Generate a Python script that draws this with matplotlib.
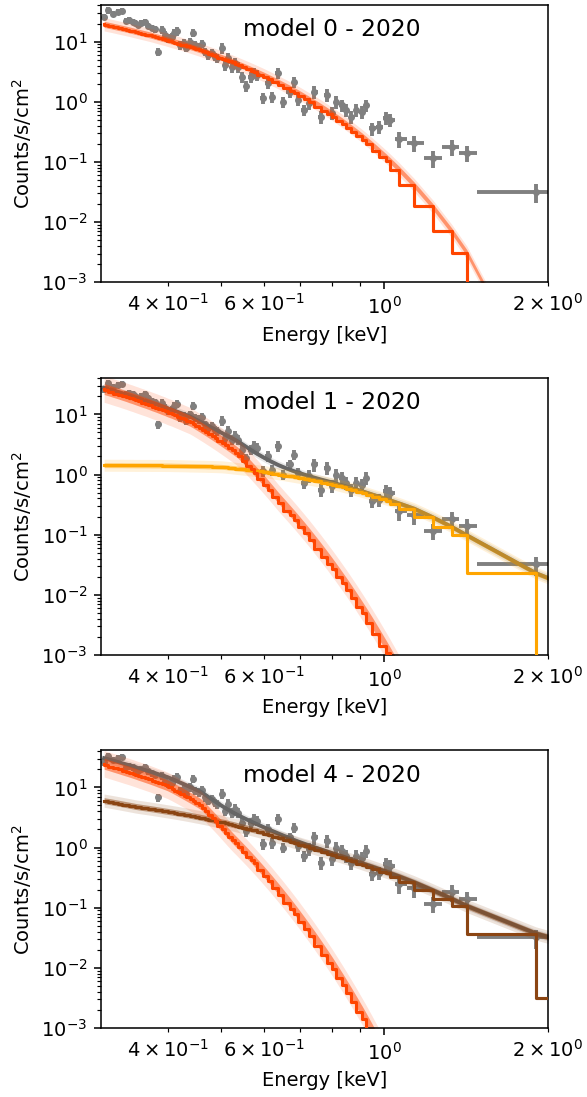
import numpy as np
import matplotlib
matplotlib.use("Agg")
import matplotlib.pyplot as plt

DPI = 140

# ---- observed spectrum (bin centres in keV, counts/s/cm^2, relative 1-sigma errors)
energy = [0.305, 0.310, 0.317, 0.324, 0.329, 0.335, 0.339, 0.344, 0.348, 0.3525,
          0.357, 0.363, 0.368, 0.373, 0.379, 0.384, 0.389, 0.394, 0.399, 0.406,
          0.410, 0.416, 0.4215, 0.427, 0.432, 0.438, 0.444, 0.449, 0.455, 0.461,
          0.467, 0.473, 0.481, 0.487, 0.493, 0.502, 0.508, 0.515, 0.524, 0.530,
          0.537, 0.546, 0.556, 0.568, 0.575, 0.582, 0.597, 0.610, 0.621, 0.637,
          0.651, 0.670, 0.682, 0.694, 0.712, 0.727, 0.743, 0.765, 0.785, 0.802,
          0.815, 0.836, 0.851, 0.869, 0.888, 0.911, 0.926, 0.950, 0.979, 1.008,
          1.026, 1.066, 1.136, 1.227, 1.330, 1.418, 1.901]
counts = [26, 33, 29, 31, 32.5, 22, 23, 21.5, 20.5, 19,
          20.5, 21.5, 18.5, 17, 16, 6.8, 15.7, 13, 11.5, 12,
          14, 15, 8.8, 9.5, 7.9, 10, 14, 8.8, 8.3, 9.2,
          6.8, 6.0, 6.5, 5.6, 5.3, 7.9, 4.1, 5.3, 3.8, 4.4,
          3.8, 2.6, 1.85, 2.6, 3.0, 2.8, 1.15, 2.05, 1.2, 3.0,
          1.0, 1.47, 2.15, 1.07, 0.73, 0.95, 1.47, 0.56, 1.3, 0.65,
          1.0, 0.88, 0.73, 0.56, 0.73, 0.68, 0.88, 0.36, 0.38, 0.54,
          0.50, 0.245, 0.21, 0.115, 0.18, 0.14, 0.032]
rel_err = [0.12] * 15 + [0.16] * 20 + [0.20] * 20 + [0.24] * 16 + [0.30] * 5 + [0.35]
last_bin = [1.48, 2.32]

# ---- model components evaluated on the bin centres (+ one point past 2 keV)
model_e = energy + [2.1]

red0 = [19.4, 18.8, 18.0, 17.2, 16.7, 16.1, 15.7, 15.2, 14.8, 14.4,
        14.0, 13.5, 13.1, 12.7, 12.2, 11.8, 11.4, 11.1, 10.7, 10.2,
        9.98, 9.6, 9.27, 8.94, 8.65, 8.32, 8.0, 7.74, 7.44, 7.15,
        6.87, 6.6, 6.26, 6.01, 5.78, 5.44, 5.22, 4.98, 4.69, 4.50,
        4.29, 4.03, 3.76, 3.46, 3.30, 3.14, 2.83, 2.58, 2.38, 2.13,
        1.92, 1.68, 1.54, 1.41, 1.23, 1.10, 0.979, 0.83, 0.713, 0.626,
        0.566, 0.482, 0.428, 0.372, 0.320, 0.267, 0.236, 0.195, 0.153, 0.121,
        0.104, 0.0743, 0.0407, 0.0182, 0.00712, 0.0031, 2.1e-5, 1e-5]

red1 = [26.3, 25.2, 23.6, 22.2, 21.2, 20.1, 19.3, 18.5, 17.8, 17.1,
        16.4, 15.6, 14.9, 14.2, 13.5, 12.9, 12.3, 11.8, 11.2, 10.6,
        10.2, 9.65, 9.18, 8.73, 8.34, 7.91, 7.38, 6.93, 6.44, 5.98,
        5.55, 5.15, 4.67, 4.33, 4.02, 3.59, 3.33, 3.05, 2.73, 2.54,
        2.32, 2.02, 1.70, 1.38, 1.22, 1.08, 0.837, 0.668, 0.553, 0.419,
        0.336, 0.251, 0.209, 0.174, 0.132, 0.105, 0.082, 0.0585, 0.0431, 0.0332,
        0.0272, 0.0197, 0.0157, 0.0119, 0.0089, 0.00625, 0.00497, 0.00344, 0.0022, 0.00141,
        0.00107, 5.8e-4, 2e-4, 4.9e-5, 1e-5, 2.6e-6, 1e-9, 1e-10]

orange1 = [1.429, 1.429, 1.426, 1.426, 1.426, 1.422, 1.422, 1.422, 1.419, 1.419,
           1.419, 1.419, 1.419, 1.416, 1.416, 1.416, 1.416, 1.413, 1.413, 1.410,
           1.406, 1.403, 1.400, 1.396, 1.393, 1.387, 1.384, 1.380, 1.377, 1.374,
           1.371, 1.365, 1.361, 1.358, 1.352, 1.343, 1.330, 1.312, 1.291, 1.276,
           1.259, 1.239, 1.216, 1.191, 1.175, 1.159, 1.127, 1.096, 1.069, 1.030,
           0.998, 0.955, 0.929, 0.904, 0.867, 0.838, 0.807, 0.767, 0.733, 0.705,
           0.679, 0.641, 0.615, 0.585, 0.555, 0.520, 0.497, 0.462, 0.424, 0.389,
           0.370, 0.329, 0.269, 0.195, 0.135, 0.0977, 0.0229, 1e-5]

red4 = [24.6, 23.6, 22.1, 20.8, 19.9, 18.9, 18.3, 17.5, 16.9, 16.2,
        15.6, 14.8, 14.2, 13.6, 12.9, 12.3, 11.8, 11.3, 10.8, 9.98,
        9.51, 8.85, 8.29, 7.77, 7.32, 6.82, 6.35, 5.98, 5.57, 5.14,
        4.56, 4.05, 3.45, 3.06, 2.72, 2.27, 2.01, 1.75, 1.48, 1.33,
        1.18, 1.01, 0.851, 0.692, 0.613, 0.543, 0.419, 0.335, 0.277, 0.210,
        0.165, 0.119, 0.0966, 0.0785, 0.0575, 0.0444, 0.0337, 0.0230, 0.0163, 0.0122,
        0.00972, 0.00676, 0.00522, 0.00382, 0.00275, 0.00185, 0.00143, 9.4e-4, 5.7e-4, 3.5e-4,
        2.5e-4, 1.3e-4, 3e-5, 5e-6, 1e-6, 2e-7, 1e-10, 1e-11]

brown4 = [6.01, 5.86, 5.66, 5.46, 5.32, 5.16, 5.06, 4.93, 4.83, 4.74,
          4.66, 4.56, 4.48, 4.40, 4.30, 4.22, 4.14, 4.06, 3.99, 3.89,
          3.83, 3.75, 3.67, 3.60, 3.53, 3.45, 3.37, 3.30, 3.23, 3.15,
          3.08, 3.00, 2.90, 2.84, 2.77, 2.67, 2.61, 2.53, 2.44, 2.38,
          2.31, 2.22, 2.13, 2.03, 1.97, 1.92, 1.80, 1.70, 1.62, 1.51,
          1.42, 1.31, 1.24, 1.18, 1.10, 1.04, 0.98, 0.904, 0.839, 0.789,
          0.754, 0.702, 0.666, 0.626, 0.586, 0.542, 0.516, 0.478, 0.435, 0.395,
          0.373, 0.329, 0.263, 0.195, 0.141, 0.107, 0.0372, 0.0032]

# smooth-band value at the extra point (the step drops there, the band does not)
band_tail = {"red0": 1e-6, "red1": 1e-11, "orange1": 0.016, "red4": 1e-12, "brown4": 0.029}

# band half widths in dex: (inner, outer)
band_dex = {"red0": (0.05, 0.11), "red1": (0.09, 0.22), "orange1": (0.04, 0.10),
            "red4": (0.09, 0.22), "brown4": (0.05, 0.11), "total": (0.03, 0.07)}

titles = ["model 0 - 2020", "model 1 - 2020", "model 4 - 2020"]
components = [
    [("red0", red0, "#ff4500")],
    [("orange1", orange1, "#ffa500"), ("red1", red1, "#ff4500")],
    [("brown4", brown4, "#8b4513"), ("red4", red4, "#ff4500")],
]

# ---- derived error bars
E = np.array(energy)
C = np.array(counts)
mid = 0.5 * (E[:-1] + E[1:])
lo = np.r_[E[0] - (mid[0] - E[0]), mid]
hi = np.r_[mid, E[-1]]
lo[-1], hi[-1] = last_bin
hi[-2] = last_bin[0]
xerr = [E - lo, hi - E]
yerr = C * np.array(rel_err)
ME = np.array(model_e)


def band(ax, y, key, color):
    w_in, w_out = band_dex[key]
    ax.fill_between(ME, y * 10 ** -w_out, y * 10 ** w_out, color=color, alpha=0.15, lw=0, zorder=2)
    ax.fill_between(ME, y * 10 ** -w_in, y * 10 ** w_in, color=color, alpha=0.5, lw=0, zorder=2)


fig = plt.figure(figsize=(587 / DPI, 1097 / DPI), dpi=DPI)
ax_left, ax_w, ax_h = 101 / 587, 447 / 587, 277.5 / 1097
bottoms = [0.7427, 0.4029, 0.0629]

for title, comps, bottom in zip(titles, components, bottoms):
    ax = fig.add_axes([ax_left, bottom, ax_w, ax_h])
    ax.errorbar(E, C, xerr=xerr, yerr=yerr, fmt="o", ms=2.6, color="gray",
                ecolor="gray", elinewidth=2.0, capsize=0, zorder=1)

    smooth = {key: np.r_[np.array(y[:-1]), band_tail[key]] for key, y, _ in comps}
    if len(comps) > 1:
        total = sum(smooth.values())
        band(ax, total, "total", "#666666")
        ax.plot(ME, total, color="#666666", lw=2.0, zorder=2)

    for key, y, color in comps:
        band(ax, smooth[key], key, color)
    for key, y, color in comps:
        ax.step(ME, y, where="pre", color=color, lw=1.6, zorder=3)

    ax.set_xscale("log")
    ax.set_yscale("log")
    ax.set_xlim(0.301, 2.0)
    ax.set_ylim(1e-3, 41)
    ax.set_xlabel("Energy [keV]")
    ax.set_ylabel("Counts/s/cm$^2$")
    ax.text(0.517, 0.91, title, transform=ax.transAxes, ha="center", va="center",
            fontsize=12)

fig.savefig("out.png", dpi=DPI)
